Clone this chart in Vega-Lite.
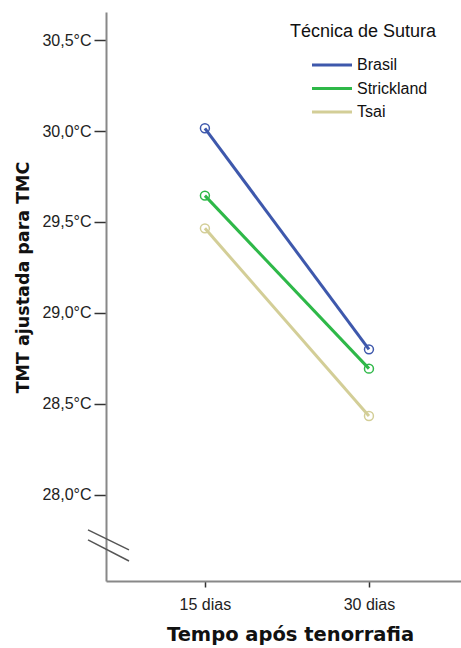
{
  "$schema": "https://vega.github.io/schema/vega-lite/v6.json",
  "width": 355,
  "height": 569,
  "autosize": {"type": "none"},
  "padding": {"left": 106, "top": 12, "right": 0, "bottom": 67},
  "background": "white",
  "config": {"view": {"stroke": null}, "font": "Liberation Sans"},
  "datasets": {
    "means": [
      {"tempo": "15 dias", "tecnica": "Brasil", "value": 30.015},
      {"tempo": "30 dias", "tecnica": "Brasil", "value": 28.8},
      {"tempo": "15 dias", "tecnica": "Strickland", "value": 29.645},
      {"tempo": "30 dias", "tecnica": "Strickland", "value": 28.694},
      {"tempo": "15 dias", "tecnica": "Tsai", "value": 29.465},
      {"tempo": "30 dias", "tecnica": "Tsai", "value": 28.434}
    ],
    "breaks": [
      {"bx": -0.0507, "bx2": 0.0648, "value": 27.808, "value2": 27.698},
      {"bx": -0.0507, "bx2": 0.0648, "value": 27.753, "value2": 27.637}
    ]
  },
  "layer": [
    {
      "data": {"name": "means"},
      "encoding": {
        "x": {
          "field": "tempo", "type": "ordinal", "sort": ["15 dias", "30 dias"],
          "scale": {"type": "point", "padding": 0.582, "align": 0.518},
          "axis": {
            "domainColor": "#888888", "domainWidth": 2,
            "tickColor": "#333333", "tickSize": 6, "tickWidth": 1.5,
            "labelFont": "Liberation Sans", "labelFontSize": 16, "labelColor": "#222222",
            "labelPadding": 9, "labelAngle": 0,
            "title": "Tempo após tenorrafia", "titleFont": "DejaVu Sans", "titleFontWeight": "bold",
            "titleFontSize": 19.5, "titleColor": "#111111",
            "titleX": 184, "titleY": 59, "titleBaseline": "alphabetic", "titleAlign": "center"
          }
        },
        "y": {
          "field": "value", "type": "quantitative",
          "scale": {"domain": [27.527, 30.654], "nice": false, "zero": false},
          "axis": {
            "values": [28, 28.5, 29, 29.5, 30, 30.5],
            "labelExpr": "replace(format(datum.value, '.1f'), '.', ',') + '°C'",
            "grid": false,
            "domainColor": "#888888", "domainWidth": 2,
            "tickColor": "#333333", "tickSize": 12, "tickWidth": 1.5,
            "labelFont": "Liberation Sans", "labelFontSize": 16, "labelColor": "#222222", "labelPadding": 3,
            "title": "TMT ajustada para TMC", "titleFont": "DejaVu Sans", "titleFontWeight": "bold",
            "titleFontSize": 17.5, "titleColor": "#111111",
            "titleX": -83, "titleY": 265, "titleAngle": -90, "titleBaseline": "middle", "titleAlign": "center"
          }
        },
        "color": {
          "field": "tecnica", "type": "nominal",
          "scale": {"domain": ["Brasil", "Strickland", "Tsai"], "range": ["#3E58AC", "#2EB848", "#D3CE97"]}
        }
      },
      "layer": [
        {
          "mark": {"type": "line", "strokeWidth": 3},
          "encoding": {
            "color": {
              "field": "tecnica", "type": "nominal",
              "scale": {"domain": ["Brasil", "Strickland", "Tsai"], "range": ["#3E58AC", "#2EB848", "#D3CE97"]},
              "legend": {
                "title": "Técnica de Sutura", "orient": "none", "legendX": 184, "legendY": 11,
                "titleFont": "Liberation Sans", "titleFontSize": 18, "titleFontWeight": "normal", "titleColor": "#111111",
                "titlePadding": 16,
                "labelFont": "Liberation Sans", "labelFontSize": 16, "labelColor": "#111111",
                "symbolType": "M-4,0H4", "symbolSize": 100, "symbolStrokeWidth": 3,
                "symbolOffset": 34, "labelOffset": 17, "rowPadding": 7.5
              }
            }
          }
        },
        {
          "mark": {"type": "point", "shape": "circle", "filled": false, "size": 80, "strokeWidth": 1.5, "opacity": 1},
          "encoding": {"color": {"field": "tecnica", "type": "nominal", "legend": null}}
        }
      ]
    },
    {
      "data": {"name": "breaks"},
      "mark": {"type": "rule", "color": "#555555", "strokeWidth": 1.5},
      "encoding": {
        "x": {"field": "bx", "type": "quantitative", "scale": {"domain": [0, 1]}, "axis": null},
        "x2": {"field": "bx2"},
        "y": {"field": "value", "type": "quantitative"},
        "y2": {"field": "value2"}
      }
    }
  ],
  "resolve": {"scale": {"x": "independent"}}
}
